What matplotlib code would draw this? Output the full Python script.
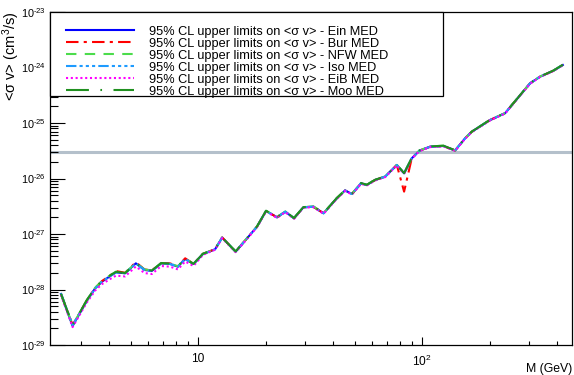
import matplotlib
matplotlib.use('Agg')
import matplotlib.pyplot as plt
import matplotlib.ticker as mticker
from matplotlib.patches import Rectangle
import numpy as np

matplotlib.rcParams['font.family'] = ['Liberation Sans', 'DejaVu Sans']
matplotlib.rcParams['mathtext.fontset'] = 'custom'
matplotlib.rcParams['mathtext.rm'] = 'Liberation Sans'
matplotlib.rcParams['mathtext.it'] = 'Liberation Sans:italic'
matplotlib.rcParams['mathtext.default'] = 'regular'

# WIMP mass (GeV)
mass = [2.44, 2.75, 2.97, 3.18, 3.47, 3.72, 4.05, 4.30, 4.72, 5.27,
        5.76, 6.21, 6.84, 7.50, 8.12, 8.75, 9.53, 10.5, 11.2, 11.9,
        12.8, 14.7, 18.3, 20.1, 22.5, 24.5, 26.8, 29.5, 32.7, 36.3,
        41.6, 45.3, 48.6, 53.4, 56.6, 61.7, 68.4, 77.1, 83.1, 89.9,
        97.3, 108.6, 124.5, 140.4, 155.6, 166.7, 201.0, 234.7, 303.5, 336.3,
        385.7, 424.8]

# 95% CL upper limits on <sigma v> (cm^3/s), one list per halo profile
ein = [8.3e-29, 2.2e-29, 3.8e-29, 6.2e-29, 1.05e-28, 1.38e-28, 1.75e-28, 2.04e-28, 1.96e-28, 2.96e-28,
       2.25e-28, 2.16e-28, 2.96e-28, 2.88e-28, 2.58e-28, 3.55e-28, 2.88e-28, 4.36e-28, 4.8e-28, 5.3e-28,
       8.6e-28, 4.8e-28, 1.35e-27, 2.6e-27, 2.0e-27, 2.52e-27, 1.92e-27, 3.03e-27, 3.1e-27, 2.36e-27,
       4.4e-27, 6.1e-27, 5.26e-27, 8.2e-27, 7.64e-27, 9.4e-27, 1.08e-26, 1.75e-26, 1.24e-26, 2.31e-26,
       3.17e-26, 3.74e-26, 3.85e-26, 3.2e-26, 5.3e-26, 6.97e-26, 1.13e-25, 1.5e-25, 5.19e-25, 6.83e-25,
       8.75e-25, 1.11e-24]
bur = [8.3e-29, 2.3e-29, 3.9e-29, 6.3e-29, 1.07e-28, 1.42e-28, 1.8e-28, 2.15e-28, 2.0e-28, 3.1e-28,
       2.3e-28, 2.2e-28, 3.0e-28, 2.95e-28, 2.62e-28, 3.65e-28, 2.9e-28, 4.4e-28, 4.85e-28, 5.35e-28,
       8.7e-28, 4.8e-28, 1.35e-27, 2.6e-27, 2.0e-27, 2.52e-27, 1.92e-27, 3.03e-27, 3.1e-27, 2.36e-27,
       4.4e-27, 6.1e-27, 5.26e-27, 8.2e-27, 7.64e-27, 9.4e-27, 1.08e-26, 1.75e-26, 5.8e-27, 2.31e-26,
       3.17e-26, 3.74e-26, 3.85e-26, 3.2e-26, 5.3e-26, 6.97e-26, 1.13e-25, 1.5e-25, 5.19e-25, 6.83e-25,
       8.75e-25, 1.11e-24]
nfw = [8.3e-29, 2.3e-29, 3.9e-29, 6.4e-29, 1.08e-28, 1.42e-28, 1.8e-28, 2.1e-28, 2.0e-28, 3.0e-28,
       2.3e-28, 2.2e-28, 3.0e-28, 2.92e-28, 2.62e-28, 3.6e-28, 2.9e-28, 4.4e-28, 4.85e-28, 5.35e-28,
       8.6e-28, 4.85e-28, 1.36e-27, 2.62e-27, 2.02e-27, 2.55e-27, 1.94e-27, 3.05e-27, 3.15e-27, 2.38e-27,
       4.45e-27, 6.15e-27, 5.3e-27, 8.3e-27, 7.7e-27, 9.5e-27, 1.09e-26, 1.76e-26, 1.25e-26, 2.33e-26,
       3.2e-26, 3.78e-26, 3.9e-26, 3.22e-26, 5.35e-26, 7.0e-26, 1.14e-25, 1.51e-25, 5.22e-25, 6.88e-25,
       8.8e-25, 1.12e-24]
iso = [8.6e-29, 2.25e-29, 3.85e-29, 6.2e-29, 1.05e-28, 1.38e-28, 1.75e-28, 2.04e-28, 1.96e-28, 2.96e-28,
       2.25e-28, 2.16e-28, 2.96e-28, 2.88e-28, 2.58e-28, 3.55e-28, 2.88e-28, 4.36e-28, 4.8e-28, 5.3e-28,
       8.6e-28, 4.8e-28, 1.35e-27, 2.6e-27, 2.0e-27, 2.52e-27, 1.92e-27, 3.03e-27, 3.1e-27, 2.36e-27,
       4.4e-27, 6.1e-27, 5.26e-27, 8.2e-27, 7.64e-27, 9.4e-27, 1.08e-26, 1.75e-26, 1.24e-26, 2.31e-26,
       3.17e-26, 3.74e-26, 3.85e-26, 3.2e-26, 5.3e-26, 6.97e-26, 1.13e-25, 1.5e-25, 5.19e-25, 6.83e-25,
       8.75e-25, 1.11e-24]
eib = [8.0e-29, 2.1e-29, 3.6e-29, 5.8e-29, 9.6e-29, 1.25e-28, 1.55e-28, 1.78e-28, 1.72e-28, 2.6e-28,
       1.98e-28, 1.9e-28, 2.65e-28, 2.58e-28, 2.3e-28, 3.2e-28, 2.65e-28, 4.2e-28, 4.7e-28, 5.2e-28,
       8.4e-28, 4.7e-28, 1.32e-27, 2.55e-27, 1.95e-27, 2.48e-27, 1.88e-27, 2.98e-27, 3.05e-27, 2.32e-27,
       4.3e-27, 5.95e-27, 5.15e-27, 8.0e-27, 7.5e-27, 9.2e-27, 1.06e-26, 1.72e-26, 1.22e-26, 2.28e-26,
       3.12e-26, 3.68e-26, 3.78e-26, 3.15e-26, 5.2e-26, 6.85e-26, 1.11e-25, 1.48e-25, 5.1e-25, 6.75e-25,
       8.65e-25, 1.1e-24]
moo = [8.4e-29, 2.3e-29, 3.95e-29, 6.4e-29, 1.08e-28, 1.42e-28, 1.8e-28, 2.08e-28, 1.98e-28, 2.98e-28,
       2.28e-28, 2.2e-28, 3.0e-28, 2.92e-28, 2.62e-28, 3.58e-28, 2.9e-28, 4.4e-28, 4.85e-28, 5.35e-28,
       8.6e-28, 4.85e-28, 1.36e-27, 2.62e-27, 2.02e-27, 2.55e-27, 1.94e-27, 3.05e-27, 3.15e-27, 2.38e-27,
       4.45e-27, 6.15e-27, 5.3e-27, 8.3e-27, 7.7e-27, 9.5e-27, 1.09e-26, 1.76e-26, 1.25e-26, 2.33e-26,
       3.2e-26, 3.78e-26, 3.9e-26, 3.22e-26, 5.35e-26, 7.0e-26, 1.14e-25, 1.51e-25, 5.22e-25, 6.88e-25,
       8.8e-25, 1.12e-24]

thermal = 3e-26
labels = ['Ein', 'Bur', 'NFW', 'Iso', 'EiB', 'Moo']
xticks = [10, 100]
xticklabels = ['10', '$10^2$']
yexp = [-29, -28, -27, -26, -25, -24, -23]

fig = plt.figure(figsize=(5.74, 3.75), dpi=100)
ax = fig.add_axes([50/574, 30/375, 522/574, 333/375])

ax.axhline(thermal, color='#b4c0cb', lw=2.2, zorder=1)

styles = [
    (ein, '#0000ff', '-'),
    (bur, '#ff0000', (0, (6, 2.5, 1.5, 2.5))),
    (nfw, '#4cdc4c', (0, (5, 4))),
    (iso, '#1e9bff', (0, (5, 1.5, 1.5, 1.5, 1.5, 1.5, 1.5, 1.5))),
    (eib, '#ff00ff', (0, (1, 1.3))),
    (moo, '#209020', (0, (11, 5.5, 0.8, 5.5))),
]
for (vals, col, ls), lab in zip(styles, labels):
    ax.plot(mass, vals, color=col, ls=ls, lw=1.5,
            label='95% CL upper limits on <\u03c3 v> - ' + lab + ' MED')

ax.set_xscale('log')
ax.set_yscale('log')
ax.set_xlim(2.18, 467)
ax.set_ylim(1e-29, 1e-23)

ax.xaxis.set_major_locator(mticker.FixedLocator(xticks))
ax.xaxis.set_major_formatter(mticker.FixedFormatter(xticklabels))
ax.xaxis.set_minor_locator(mticker.LogLocator(base=10, subs=np.arange(2, 10), numticks=20))
ax.xaxis.set_minor_formatter(mticker.NullFormatter())
ax.yaxis.set_major_locator(mticker.FixedLocator([10.0**e for e in yexp]))
ax.yaxis.set_major_formatter(mticker.FixedFormatter(['$10^{\u2010%d}$' % -e for e in yexp]))
ax.yaxis.set_minor_locator(mticker.LogLocator(base=10, subs=np.arange(2, 10), numticks=20))
ax.yaxis.set_minor_formatter(mticker.NullFormatter())

ax.tick_params(axis='y', which='major', direction='in', length=11, width=0.8, labelsize=7.8, pad=3)
ax.tick_params(axis='y', which='minor', direction='in', length=5.5, width=0.8)
ax.tick_params(axis='x', which='major', direction='in', length=6, width=0.8, labelsize=8.6, pad=6)
ax.tick_params(axis='x', which='minor', direction='in', length=3, width=0.8)
for sp in ax.spines.values():
    sp.set_linewidth(0.9)

ax.set_ylabel('<\u03c3 v> (cm$^3$/s)', loc='top', fontsize=10.5)
ax.yaxis.set_label_coords(-0.053, 1.0)
ax.set_xlabel('M (GeV)', loc='right', fontsize=8.8)
ax.xaxis.set_label_coords(1.0, -0.055)

ax.add_patch(Rectangle((0, 1 - 84/333), 393/522, 84/333, transform=ax.transAxes,
                       fill=True, facecolor='white', edgecolor='black', lw=0.9, zorder=5,
                       clip_on=False))
leg = ax.legend(loc='upper left', bbox_to_anchor=(0.014, 0.986), frameon=False,
                fontsize=9.2, handlelength=5.3, handletextpad=1.15, labelspacing=0.0,
                borderpad=0.2)
leg.set_zorder(6)

fig.savefig('out.png', dpi=100)
